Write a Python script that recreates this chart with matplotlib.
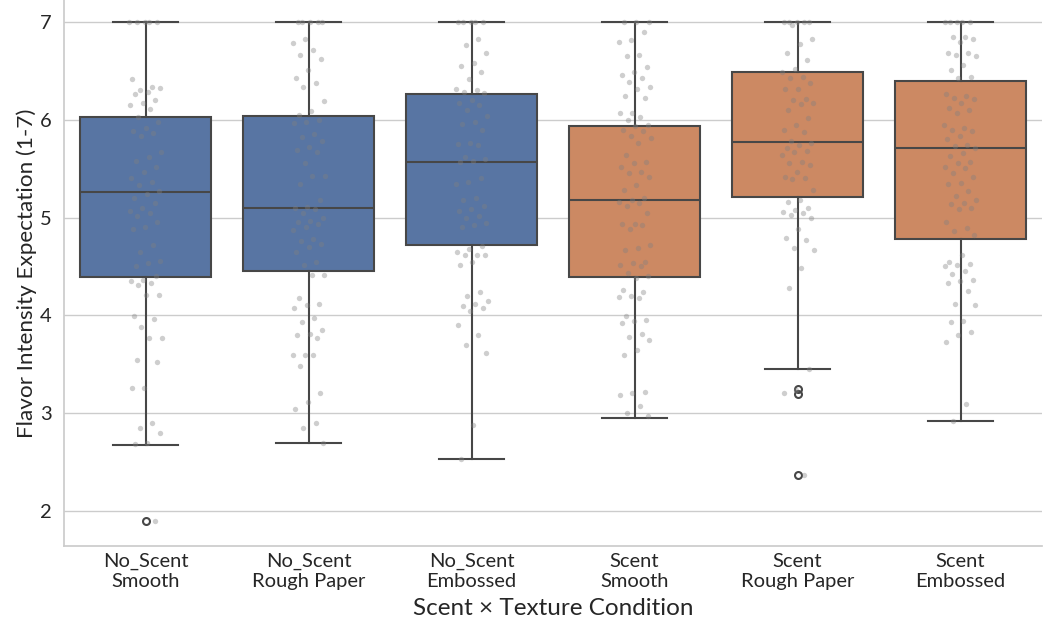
import numpy as np
import matplotlib
matplotlib.use("Agg")
import matplotlib.pyplot as plt

# ---- data ---------------------------------------------------------------
categories = ["No_Scent\nSmooth", "No_Scent\nRough Paper", "No_Scent\nEmbossed",
              "Scent\nSmooth", "Scent\nRough Paper", "Scent\nEmbossed"]
scent_group = ["No_Scent", "No_Scent", "No_Scent", "Scent", "Scent", "Scent"]

box_med = [5.26, 5.10, 5.57, 5.18, 5.77, 5.71]
box_q1 = [4.39, 4.45, 4.72, 4.39, 5.21, 4.78]
box_q3 = [6.03, 6.04, 6.26, 5.94, 6.49, 6.40]
whisk_lo = [2.67, 2.70, 2.53, 2.95, 3.45, 2.92]
whisk_hi = [7.0, 7.0, 7.0, 7.0, 7.0, 7.0]
outliers = [[1.90], [], [], [], [3.25, 3.20, 2.37], []]

ratings_ns_smooth = [7.0, 7.0, 7.0, 7.0, 7.0, 6.42, 6.34, 6.30, 6.33, 6.28, 6.26, 6.20,
                     6.17, 6.15, 6.11, 6.03, 5.98, 5.92, 5.89, 5.86, 5.83, 5.67, 5.62,
                     5.58, 5.52, 5.47, 5.40, 5.36, 5.33, 5.27, 5.24, 5.20, 5.15, 5.10,
                     5.07, 5.05, 5.02, 4.96, 4.90, 4.88, 4.72, 4.65, 4.56, 4.54, 4.50,
                     4.40, 4.36, 4.35, 4.33, 4.31, 4.21, 4.21, 3.99, 3.96, 3.88, 3.77,
                     3.77, 3.54, 3.52, 3.26, 3.26, 2.90, 2.85, 2.80, 2.70, 2.68, 1.90]
ratings_ns_rough = [7.0, 7.0, 7.0, 7.0, 7.0, 6.83, 6.79, 6.71, 6.66, 6.62, 6.51, 6.43,
                    6.38, 6.34, 6.19, 6.09, 6.05, 6.00, 5.98, 5.97, 5.85, 5.82, 5.78,
                    5.72, 5.69, 5.67, 5.56, 5.43, 5.43, 5.34, 5.18, 5.11, 5.10, 5.09,
                    5.05, 5.00, 4.97, 4.95, 4.93, 4.90, 4.87, 4.78, 4.76, 4.73, 4.70,
                    4.65, 4.55, 4.52, 4.41, 4.41, 4.18, 4.12, 4.11, 4.08, 3.97, 3.93,
                    3.85, 3.81, 3.80, 3.77, 3.59, 3.59, 3.59, 3.48, 3.21, 3.11, 3.04,
                    2.90, 2.85, 2.70]
ratings_ns_emb = [7.0, 7.0, 7.0, 7.0, 7.0, 6.83, 6.76, 6.68, 6.58, 6.55, 6.49, 6.42,
                  6.32, 6.30, 6.28, 6.27, 6.20, 6.17, 6.15, 6.10, 6.04, 5.98, 5.96,
                  5.90, 5.76, 5.75, 5.74, 5.62, 5.60, 5.58, 5.57, 5.40, 5.36, 5.34,
                  5.20, 5.18, 5.12, 5.09, 5.07, 5.02, 5.00, 4.94, 4.92, 4.90, 4.71,
                  4.68, 4.65, 4.62, 4.62, 4.62, 4.55, 4.52, 4.24, 4.20, 4.15, 4.12,
                  4.10, 4.08, 4.05, 3.90, 3.80, 3.70, 3.62, 2.88, 2.53]
ratings_s_smooth = [7.0, 7.0, 7.0, 6.90, 6.82, 6.80, 6.66, 6.65, 6.54, 6.49, 6.46, 6.43,
                    6.39, 6.34, 6.32, 6.24, 6.22, 6.07, 6.07, 6.03, 6.00, 5.95, 5.94,
                    5.90, 5.89, 5.83, 5.81, 5.76, 5.64, 5.57, 5.56, 5.52, 5.47, 5.46,
                    5.42, 5.33, 5.28, 5.20, 5.18, 5.16, 5.15, 5.12, 5.05, 4.93, 4.93,
                    4.92, 4.88, 4.72, 4.69, 4.67, 4.55, 4.54, 4.52, 4.50, 4.43, 4.40,
                    4.38, 4.26, 4.24, 4.20, 4.19, 4.18, 3.99, 3.95, 3.94, 3.92, 3.81,
                    3.78, 3.75, 3.65, 3.60, 3.22, 3.21, 3.19, 3.07, 3.00, 2.97]
ratings_s_rough = [7.0, 7.0, 7.0, 7.0, 7.0, 6.97, 6.83, 6.78, 6.68, 6.61, 6.52, 6.49,
                   6.44, 6.43, 6.38, 6.32, 6.31, 6.21, 6.20, 6.17, 6.16, 6.10, 6.02,
                   5.95, 5.90, 5.88, 5.78, 5.76, 5.74, 5.71, 5.68, 5.67, 5.64, 5.57,
                   5.56, 5.54, 5.47, 5.42, 5.41, 5.39, 5.28, 5.18, 5.16, 5.10, 5.08,
                   5.06, 5.05, 5.03, 5.00, 4.88, 4.79, 4.77, 4.69, 4.67, 4.48, 4.28,
                   3.45, 3.24, 3.21, 2.37]
ratings_s_emb = [7.0, 7.0, 7.0, 7.0, 7.0, 6.85, 6.85, 6.83, 6.80, 6.68, 6.68, 6.66,
                 6.65, 6.56, 6.51, 6.44, 6.43, 6.26, 6.24, 6.22, 6.21, 6.17, 6.12,
                 6.10, 6.07, 5.95, 5.92, 5.90, 5.89, 5.83, 5.80, 5.74, 5.73, 5.71,
                 5.66, 5.63, 5.57, 5.56, 5.52, 5.51, 5.46, 5.42, 5.35, 5.34, 5.27,
                 5.22, 5.18, 5.15, 5.14, 5.10, 5.09, 4.96, 4.89, 4.86, 4.82, 4.62,
                 4.55, 4.53, 4.52, 4.51, 4.45, 4.42, 4.36, 4.35, 4.33, 4.25, 4.12,
                 4.11, 3.94, 3.93, 3.83, 3.80, 3.73, 3.09, 2.92]

ratings = [ratings_ns_smooth, ratings_ns_rough, ratings_ns_emb,
           ratings_s_smooth, ratings_s_rough, ratings_s_emb]

# ---- style --------------------------------------------------------------
plt.rcParams["font.family"] = ["Lato", "DejaVu Sans"]
fill_colors = {"No_Scent": "#5875a3", "Scent": "#cc8963"}
line_color = "#474747"
grid_color = "#cccccc"
text_color = "#262626"

fig = plt.figure(figsize=(10.48, 6.24), dpi=100)
ax = fig.add_axes([64 / 1048, 1 - 546 / 624, (1042 - 64) / 1048, 546 / 624])

positions = np.arange(len(categories))

stats = []
for i in range(len(categories)):
    stats.append(dict(med=box_med[i], q1=box_q1[i], q3=box_q3[i],
                      whislo=whisk_lo[i], whishi=whisk_hi[i],
                      fliers=outliers[i]))

bp = ax.bxp(stats, positions=positions, widths=0.8, patch_artist=True,
            showfliers=True, capwidths=0.4,
            boxprops=dict(edgecolor=line_color, linewidth=1.5),
            medianprops=dict(color=line_color, linewidth=1.5),
            whiskerprops=dict(color=line_color, linewidth=1.5),
            capprops=dict(color=line_color, linewidth=1.5),
            flierprops=dict(marker="o", markersize=5, markerfacecolor="none",
                            markeredgecolor=line_color, markeredgewidth=1.5))
for patch, grp in zip(bp["boxes"], scent_group):
    patch.set_facecolor(fill_colors[grp])
    patch.set_zorder(2)
for key in ("medians", "whiskers", "caps", "fliers"):
    for artist in bp[key]:
        artist.set_zorder(2.5)

# jittered raw ratings on top of the boxes
golden = 0.6180339887498949
for i, vals in enumerate(ratings):
    vals = np.asarray(vals)
    k = np.arange(len(vals))
    offs = 0.1 * (2 * ((k * golden + 0.31 * i) % 1.0) - 1)
    ax.scatter(positions[i] + offs, vals, s=15, color="gray", alpha=0.38,
               linewidths=0, zorder=3)

ax.set_xlim(-0.5, len(categories) - 0.5)
ax.set_ylim(1.642, 7.225)
ax.set_yticks([2, 3, 4, 5, 6, 7])
ax.set_xticks(positions)
ax.set_xticklabels(categories)
ax.tick_params(axis="both", length=0, labelsize=14.5, colors=text_color)
ax.tick_params(axis="y", pad=9)
ax.tick_params(axis="x", pad=5)
for lbl in ax.get_xticklabels():
    lbl.set_linespacing(1.2)

ax.yaxis.grid(True, color=grid_color, linewidth=1.0)
ax.xaxis.grid(False)
ax.set_axisbelow(True)
for side in ("top", "right"):
    ax.spines[side].set_visible(False)
for side in ("left", "bottom"):
    ax.spines[side].set_color(grid_color)
    ax.spines[side].set_linewidth(1.25)

ax.set_ylabel("Flavor Intensity Expectation (1-7)", fontsize=16.2, color=text_color,
              labelpad=2)
ax.set_xlabel("Scent × Texture Condition", fontsize=17.5, color=text_color,
              labelpad=6)

fig.savefig("out.png", dpi=100)
